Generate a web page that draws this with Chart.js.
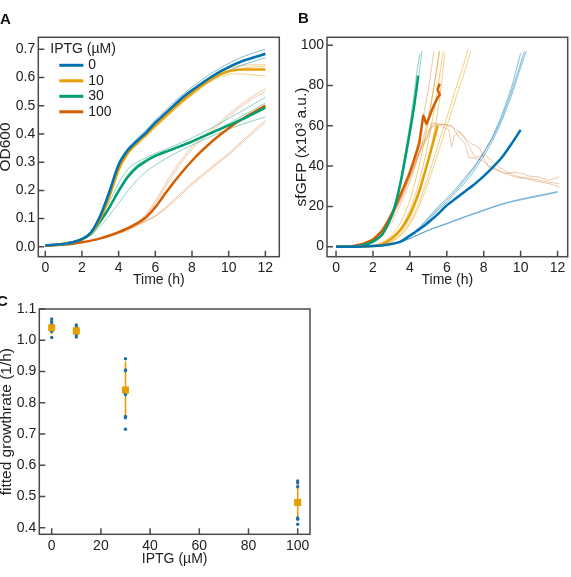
<!DOCTYPE html>
<html>
<head>
<meta charset="utf-8">
<script src="https://cdn.jsdelivr.net/npm/chart.js@4.4.1/dist/chart.umd.min.js"></script>
<style>
  body { margin: 0; background: #fff; }
  #page { position: relative; width: 571px; height: 577px; overflow: hidden; }
  .panel { position: absolute; }
  .tag { position: absolute; font: bold 15px "Liberation Sans", Arial, sans-serif; line-height: 1; color: #111; }
</style>
</head>
<body>
<div id="page">
  <canvas id="growth" class="panel" width="289" height="292" style="left:-4px;top:0"></canvas>
  <canvas id="gfp" class="panel" width="286" height="292" style="left:285px;top:0"></canvas>
  <canvas id="rates" class="panel" width="320" height="287" style="left:-4px;top:290px"></canvas>
  <div class="tag" style="left:0;top:11px">A</div>
  <div class="tag" style="left:298px;top:10px">B</div>
  <div class="tag" style="left:-3px;top:293px">C</div>
</div>
<script>
Chart.defaults.font.family = '"Liberation Sans", Arial, Helvetica, sans-serif';
Chart.defaults.font.size = 14;
Chart.defaults.color = '#222';

const iptgLevels = [0, 10, 30, 100];
const meanColors = ['#0072B2', '#E69F00', '#009E73', '#D55E00'];
const repColors = ['rgba(0,114,178,0.55)', 'rgba(230,159,0,0.55)', 'rgba(0,158,115,0.5)', 'rgba(213,94,0,0.4)'];

// ---- panel A: OD600
const timeA = [0,0.5,1,1.5,2,2.5,3,3.5,4,4.5,5,5.5,6,6.5,7,7.5,8,8.5,9,9.5,10,10.5,11,11.5,12];
const od0 = [0.005,0.007,0.010,0.016,0.027,0.052,0.110,0.195,0.290,0.342,0.375,0.405,0.440,0.470,0.500,0.530,0.555,0.578,0.600,0.620,0.637,0.652,0.664,0.674,0.684];
const od10 = [0.005,0.007,0.010,0.016,0.026,0.049,0.100,0.180,0.275,0.333,0.368,0.398,0.430,0.460,0.490,0.518,0.545,0.570,0.592,0.610,0.622,0.627,0.628,0.628,0.628];
const od30 = [0.005,0.007,0.010,0.016,0.027,0.048,0.090,0.140,0.197,0.247,0.282,0.304,0.322,0.335,0.347,0.360,0.373,0.388,0.402,0.416,0.430,0.445,0.460,0.476,0.493];
const od100 = [0.004,0.006,0.008,0.011,0.016,0.022,0.030,0.040,0.052,0.066,0.083,0.105,0.140,0.185,0.228,0.268,0.305,0.338,0.368,0.395,0.420,0.443,0.463,0.482,0.500];

const od0Reps = [
  [0.005,0.007,0.010,0.017,0.029,0.056,0.118,0.205,0.300,0.350,0.383,0.414,0.450,0.480,0.512,0.540,0.566,0.590,0.612,0.632,0.650,0.666,0.679,0.690,0.700],
  [0.005,0.007,0.010,0.016,0.027,0.051,0.108,0.192,0.287,0.340,0.373,0.402,0.437,0.467,0.497,0.526,0.552,0.575,0.597,0.616,0.633,0.648,0.660,0.670,0.680],
  [0.005,0.007,0.010,0.015,0.025,0.048,0.102,0.185,0.280,0.334,0.368,0.398,0.432,0.462,0.492,0.520,0.545,0.567,0.588,0.607,0.624,0.638,0.650,0.660,0.670],
];
const od10Reps = [
  [0.005,0.007,0.010,0.016,0.028,0.053,0.106,0.188,0.284,0.339,0.372,0.403,0.436,0.466,0.496,0.524,0.551,0.577,0.599,0.618,0.632,0.640,0.644,0.645,0.645],
  [0.005,0.007,0.010,0.016,0.026,0.049,0.099,0.178,0.272,0.331,0.366,0.396,0.428,0.458,0.488,0.516,0.543,0.568,0.590,0.607,0.620,0.629,0.635,0.638,0.640],
  [0.005,0.007,0.010,0.015,0.024,0.046,0.094,0.172,0.265,0.326,0.361,0.391,0.422,0.452,0.482,0.510,0.537,0.562,0.584,0.601,0.611,0.613,0.611,0.608,0.605],
];
const od30Reps = [
  [0.005,0.007,0.010,0.016,0.028,0.053,0.100,0.160,0.225,0.275,0.300,0.316,0.331,0.344,0.357,0.371,0.386,0.402,0.419,0.437,0.455,0.473,0.492,0.511,0.530],
  [0.005,0.007,0.010,0.016,0.027,0.049,0.092,0.145,0.205,0.256,0.290,0.310,0.326,0.339,0.351,0.363,0.376,0.390,0.405,0.420,0.437,0.455,0.473,0.491,0.510],
  [0.005,0.007,0.010,0.015,0.024,0.041,0.073,0.112,0.155,0.198,0.236,0.266,0.290,0.310,0.328,0.345,0.360,0.376,0.390,0.404,0.417,0.429,0.440,0.450,0.460],
];
const od100Reps = [
  [0.004,0.006,0.008,0.011,0.016,0.022,0.030,0.039,0.051,0.066,0.086,0.116,0.162,0.217,0.270,0.315,0.355,0.386,0.412,0.440,0.470,0.496,0.520,0.541,0.560],
  [0.004,0.006,0.008,0.011,0.016,0.022,0.029,0.038,0.050,0.064,0.083,0.111,0.153,0.206,0.258,0.305,0.345,0.377,0.405,0.433,0.462,0.488,0.512,0.532,0.551],
  [0.004,0.006,0.008,0.011,0.016,0.022,0.029,0.037,0.048,0.061,0.077,0.093,0.110,0.136,0.166,0.196,0.226,0.253,0.279,0.305,0.331,0.361,0.391,0.420,0.448],
  [0.004,0.006,0.008,0.011,0.016,0.021,0.028,0.036,0.047,0.059,0.075,0.091,0.108,0.132,0.160,0.190,0.220,0.247,0.273,0.300,0.326,0.355,0.384,0.412,0.440],
];
const timeTicks = [0, 2, 4, 6, 8, 10, 12];
const odTicks = [0, 0.1, 0.2, 0.3, 0.4, 0.5, 0.6, 0.7];

// ---- panel B: sfGFP, each trace has its own time points
const gfp0T = [0,1,2,2.5,3,3.5,4,4.5,5,5.5,6,6.5,7,7.5,8,8.5,9,9.5,10];
const gfp0 = [0,0,0.3,0.6,1.3,2.5,5.5,8.5,12,16,20.5,24,27.5,31,35,39.5,44.5,51,58];
const gfp0LowT = [0,1,2,2.5,3,3.5,4,4.5,5,5.5,6,6.5,7,7.5,8,8.5,9,9.5,10,10.5,11,11.5,12];
const gfp0Low1 = [0,0,0.3,0.6,1.2,2.2,4,6,8,9.7,11.3,13,14.7,16.3,17.9,19.5,21,22.2,23.2,24.2,25.1,26,27];
const gfp0Low2 = [0,0,0.3,0.6,1.2,2.3,4.1,6.2,8.3,10,11.6,13.3,15,16.6,18.2,19.8,21.3,22.5,23.6,24.6,25.5,26.4,27.4];
const gfp0Up1T = [0,1,2,2.5,3,3.5,4,4.5,5,5.5,6,6.5,7,7.5,8,8.5,9,9.5,10];
const gfp0Up1 = [0,0,0.3,0.6,1.3,2.8,5.5,9.5,14.5,19.5,24,29,34.5,40,47,55,66,79,96];
const gfp0Up2T = [0,1,2,2.5,3,3.5,4,4.5,5,5.5,6,6.5,7,7.5,8,8.5,9,9.5,10,10.3];
const gfp0Up2 = [0,0,0.3,0.6,1.2,2.5,5,8.5,13,18,22,27,32,38,45,53,63,75,89,97];
const gfp0Up3T = [0,1,2,2.5,3,3.5,4,4.5,5,5.5,6,6.5,7,7.5,8,8.5,9,9.5,10,10.2];
const gfp0Up3 = [0,0,0.3,0.6,1.2,2.6,5.2,9,13.8,18.7,23,28,33.5,39.5,46.5,54.5,64.5,77,91,97];

const gfp10T = [0,1,1.5,2,2.5,3,3.5,4,4.5,5,5.5];
const gfp10 = [0,0,0.1,0.3,1.2,4,8.5,16,27.5,43,60];
const gfp10RepsT = [
  [0,1,1.5,2,2.5,3,3.5,4,4.5,5,5.5,5.8],
  [0,1,1.5,2,2.5,3,3.5,4,4.5,5,5.4,5.6],
  [0,1,1.5,2,2.5,3,3.5,4,4.5,5,5.5,5.9],
  [0,1,2,2.5,3,3.5,4,4.5,5,5.5,6,6.5,7,7.15],
  [0,1,2,2.5,3,3.5,4,4.5,5,5.5,6,6.5,7,7.3],
];
const gfp10Reps = [
  [0,0,0.1,0.4,1.5,4,9,18,32,52,78,97],
  [0,0,0.1,0.5,2,5.5,12,23,40,62,85,97],
  [0,0,0.1,0.3,1,3,7,14,26,43,66,96],
  [0,0,0.2,0.8,2.5,6,12,22,35,50,64,79,93,98],
  [0,0,0.2,0.7,2.2,5.5,11,20,32,46,60,74,88,97],
];

const gfp30T = [0,0.5,1,1.5,2,2.5,3,3.25,3.5,3.75,4,4.25,4.45];
const gfp30 = [0,0,0.2,0.8,2.5,6,15,22,32,44,57,71,85];
const gfp30RepsT = [
  [0,0.5,1,1.5,2,2.5,3,3.25,3.5,3.75,4,4.25,4.5,4.65],
  [0,0.5,1,1.5,2,2.5,3,3.25,3.5,3.75,4,4.2,4.4,4.55],
];
const gfp30Reps = [
  [0,0,0.2,0.7,2.2,5.5,14,21,31,43,56,70,86,97],
  [0,0,0.2,0.9,2.8,6.5,16,24,34,47,61,74,88,96],
];

const gfp100T = [0,0.5,1,1.5,2,2.5,3,3.5,4,4.5,4.73,4.9,5.2,5.5,5.62,5.5,5.62];
const gfp100 = [0,0.1,0.5,1.5,3.5,8,16,26,37,51,65,61,68,74,75.5,78,81];
const gfp100RepsT = [
  [0,1,1.5,2,2.5,3,3.5,4,4.5,4.9,5.18,5.73,6.27,6.64,7,7.18,7.5,7.9,8.3,8.82,9.3,9.73,10.2,10.64,11.1,11.55,12.1],
  [0,1,1.5,2,2.5,3,3.5,4,4.5,5,5.27,5.7,6.1,6.26,6.4,6.64,7,7.36,7.73,8,8.27,8.7,9.18,9.6,10.1,10.5,11,11.5,12.1],
  [0,1,1.5,2,2.5,3,3.5,4,4.5,5,5.18,5.6,6.2,6.82,7.2,7.55,8.1,8.5,8.82,9.3,9.9,10.5,11,11.5,12.1],
  [0,1,1.5,2,2.5,3,3.5,4,4.5,5,5.3],
  [0,1,1.5,2,2.5,3,3.5,4,4.5,5,5.4,5.6],
];
const gfp100Reps = [
  [0,0.5,1.5,3.5,7.5,15,24,35,47,56,59.4,60.8,59.8,54.5,51,44.5,44,42.9,40,37.9,36,34.6,34,33,32,31.3,29.6],
  [0,0.4,1.3,3,7,14,23,34,46,55,60.8,60,58,49.7,55,57,54,51,49.3,44,39.6,38,36.3,37,36.3,35,34.6,33,34.6],
  [0,0.5,1.4,3.2,7.2,14.5,24,35,47,56,61.4,61,60,56,50,44.5,45.5,42,39.6,37,34.6,34,33,32,31.3],
  [0,0.4,1.3,3.2,7.5,15,25,37,54,78,97],
  [0,0.3,1,2.6,6,12,21,32,46,64,85,97],
];
const gfpTicks = [0, 20, 40, 60, 80, 100];

// ---- panel C: fitted growth rates
const rateIptg = [0, 10, 30, 100];
const rateMean = [1.04, 1.03, 0.841, 0.481];
const rateLow = [1.02, 1.015, 0.75, 0.425];
const rateHigh = [1.06, 1.045, 0.932, 0.547];
const wellIptg = [0,0,0,0,0,0,0, 10,10,10,10,10, 30,30,30,30,30,30,30,30, 100,100,100,100,100,100];
const wellRate = [1.068,1.06,1.052,1.045,1.035,1.028,1.009, 1.049,1.042,1.023,1.017,1.01,
  0.941,0.905,0.902,0.83,0.826,0.756,0.752,0.715, 0.55,0.544,0.531,0.431,0.427,0.411];
const iptgTicks = [0, 20, 40, 60, 80, 100];
const rateTicks = [0.4, 0.5, 0.6, 0.7, 0.8, 0.9, 1.0, 1.1];

const toPoints = (xs, ys) => xs.map((x, i) => ({ x, y: ys[i] }));

const trace = (xs, ys, color, width, order, tension = 0.3) => ({
  data: toPoints(xs, ys),
  borderColor: color,
  borderWidth: width,
  pointRadius: 0,
  tension,
  order,
});

// box around the plot with short inward ticks
const framePlugin = {
  id: 'frame',
  afterDatasetsDraw(chart) {
    const { ctx, chartArea: a, scales } = chart;
    ctx.save();
    ctx.strokeStyle = '#4a4a4a';
    ctx.lineWidth = 1.5;
    ctx.strokeRect(a.left, a.top, a.right - a.left, a.bottom - a.top);
    ctx.beginPath();
    scales.x.ticks.forEach((t) => {
      const px = scales.x.getPixelForValue(t.value);
      ctx.moveTo(px, a.bottom);
      ctx.lineTo(px, a.bottom - 6);
    });
    scales.y.ticks.forEach((t) => {
      const py = scales.y.getPixelForValue(t.value);
      ctx.moveTo(a.left, py);
      ctx.lineTo(a.left + 6, py);
    });
    ctx.stroke();
    ctx.restore();
  },
};

const iptgLegend = {
  id: 'iptgLegend',
  afterDraw(chart) {
    const { ctx, chartArea: a } = chart;
    ctx.save();
    ctx.font = '14px "Liberation Sans", Arial, sans-serif';
    ctx.fillStyle = '#222';
    ctx.textBaseline = 'middle';
    ctx.fillText('IPTG (µM)', a.left + 12, a.top + 12);
    iptgLevels.forEach((lvl, i) => {
      const y = a.top + 28 + i * 15.5;
      ctx.strokeStyle = meanColors[i];
      ctx.lineWidth = 3;
      ctx.beginPath();
      ctx.moveTo(a.left + 21, y);
      ctx.lineTo(a.left + 45, y);
      ctx.stroke();
      ctx.fillText(String(lvl), a.left + 50, y);
    });
    ctx.restore();
  },
};

function axis(min, max, ticks, size, title, titlePad, fmt) {
  return {
    type: 'linear',
    min,
    max,
    grid: { display: false, drawTicks: false },
    border: { display: false },
    afterBuildTicks: (s) => { s.ticks = ticks.map((v) => ({ value: v })); },
    afterFit: (s) => { if (s.isHorizontal()) s.height = size; else s.width = size; },
    ticks: { padding: 3, autoSkip: false, maxRotation: 0, callback: fmt },
    title: { display: true, text: title, padding: titlePad },
  };
}

const baseOptions = (padding, scales) => ({
  responsive: false,
  animation: false,
  layout: { padding },
  plugins: { legend: { display: false }, tooltip: { enabled: false } },
  scales,
});

// panel A
const growthSets = [
  trace(timeA, od0, meanColors[0], 2.5, 0),
  trace(timeA, od10, meanColors[1], 2.5, 0),
  trace(timeA, od30, meanColors[2], 2.5, 0),
  trace(timeA, od100, meanColors[3], 2.5, 0),
];
[od0Reps, od10Reps, od30Reps, od100Reps].forEach((reps, k) => {
  reps.forEach((r) => growthSets.push(trace(timeA, r, repColors[k], 0.9, 1)));
});

const yTitle = (scale) => { scale.title.font = { size: 15.5 }; return scale; };

new Chart(document.getElementById('growth'), {
  type: 'line',
  data: { datasets: growthSets },
  options: baseOptions({ top: 37.3, right: 5.7, left: 0, bottom: 0 }, {
    x: axis(-0.38, 12.76, timeTicks, 35.3, 'Time (h)', { top: 0, bottom: 3 }, (v) => v),
    y: yTitle(axis(-0.035, 0.7424, odTicks, 42.3, 'OD600', { top: 0, bottom: 0 }, (v) => v.toFixed(1))),
  }),
  plugins: [framePlugin, iptgLegend],
});

// panel B
const gfpSets = [
  trace(gfp0T, gfp0, meanColors[0], 2.5, 0, 0.2),
  trace(gfp10T, gfp10, meanColors[1], 2.5, 0, 0.2),
  trace(gfp30T, gfp30, meanColors[2], 2.5, 0, 0.2),
  trace(gfp100T, gfp100, meanColors[3], 2.5, 0, 0.1),
  trace(gfp0LowT, gfp0Low1, repColors[0], 0.9, 1, 0.2),
  trace(gfp0LowT, gfp0Low2, repColors[0], 0.9, 1, 0.2),
  trace(gfp0Up1T, gfp0Up1, repColors[0], 0.9, 1, 0.2),
  trace(gfp0Up2T, gfp0Up2, repColors[0], 0.9, 1, 0.2),
  trace(gfp0Up3T, gfp0Up3, repColors[0], 0.9, 1, 0.2),
];
gfp10Reps.forEach((r, i) => gfpSets.push(trace(gfp10RepsT[i], r, repColors[1], 0.9, 1, 0.2)));
gfp30Reps.forEach((r, i) => gfpSets.push(trace(gfp30RepsT[i], r, repColors[2], 0.9, 1, 0.2)));
gfp100Reps.forEach((r, i) => gfpSets.push(trace(gfp100RepsT[i], r, repColors[3], 0.9, 1, 0.1)));

new Chart(document.getElementById('gfp'), {
  type: 'line',
  data: { datasets: gfpSets },
  options: baseOptions({ top: 37.3, right: 3.3, left: 0, bottom: 0 }, {
    x: axis(-0.49, 12.55, timeTicks, 35.3, 'Time (h)', { top: 0, bottom: 3 }, (v) => v),
    y: yTitle(axis(-5, 104, gfpTicks, 42, 'sfGFP (x10³ a.u.)', { top: 7, bottom: 0 }, (v) => v)),
  }),
  plugins: [framePlugin],
});

// panel C: error bars as broken line segments, then single wells, then means
const errorBars = [];
rateIptg.forEach((x, i) => {
  errorBars.push({ x, y: rateLow[i] }, { x, y: rateHigh[i] }, { x, y: null });
});

new Chart(document.getElementById('rates'), {
  type: 'scatter',
  data: {
    datasets: [
      {
        data: toPoints(rateIptg, rateMean),
        pointStyle: 'rect',
        pointRadius: 5,
        backgroundColor: meanColors[1],
        borderWidth: 0,
        order: 0,
      },
      {
        data: toPoints(wellIptg, wellRate),
        pointRadius: 1.7,
        backgroundColor: '#1d6fa5',
        borderWidth: 0,
        order: 1,
      },
      {
        data: errorBars,
        showLine: true,
        spanGaps: false,
        borderColor: meanColors[1],
        borderWidth: 1.6,
        pointRadius: 0,
        order: 2,
      },
    ],
  },
  options: baseOptions({ top: 19, right: 6, left: 0, bottom: 0 }, {
    x: axis(-5.04, 105, iptgTicks, 42.7, 'IPTG (µM)', { top: 0, bottom: 9 }, (v) => v),
    y: yTitle(axis(0.379, 1.1, rateTicks, 43.3, 'fitted growthrate (1/h)', { top: 1.6, bottom: 0 }, (v) => v.toFixed(1))),
  }),
  plugins: [framePlugin],
});
</script>
</body>
</html>
